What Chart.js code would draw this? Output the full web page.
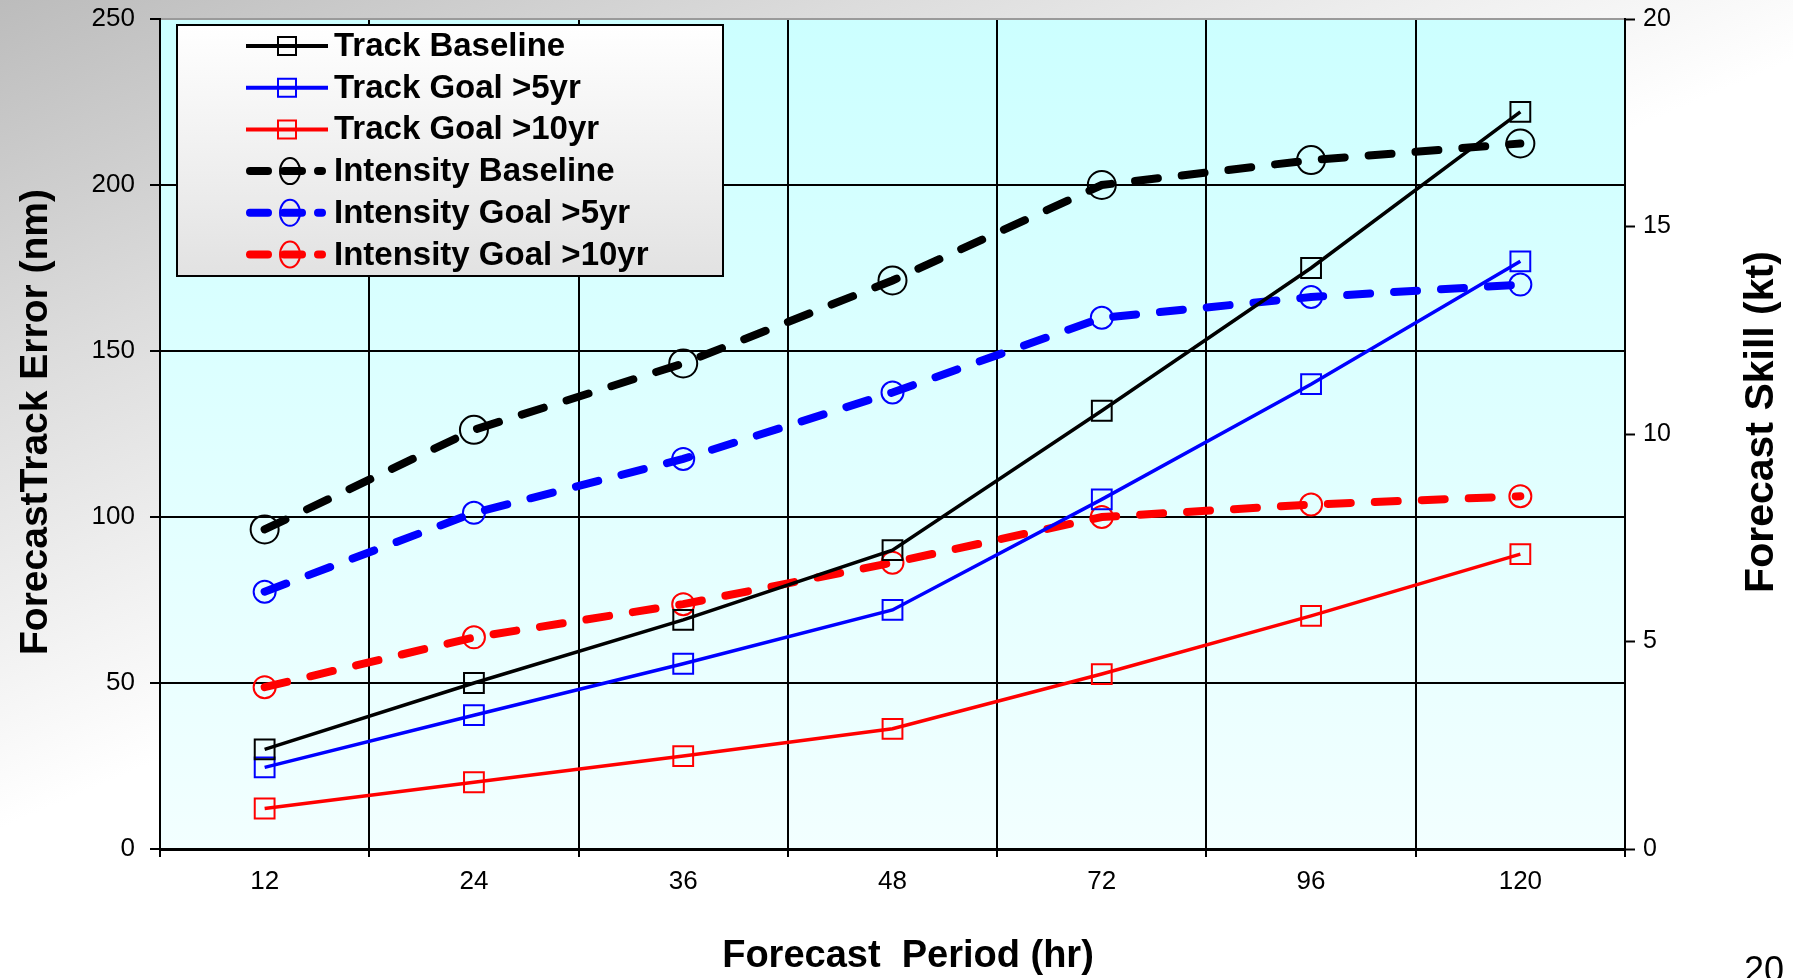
<!DOCTYPE html>
<html>
<head>
<meta charset="utf-8">
<script src="https://cdn.jsdelivr.net/npm/chart.js@4"></script>
<style>
    html, body { margin: 0; padding: 0; background: #fff; }
    canvas { display: block; }
</style>
</head>
<body>
<canvas id="grafico" width="1793" height="978"></canvas>
<script>
// =============================
// DADOS
// =============================

const periodos = ['12', '24', '36', '48', '72', '96', '120'];

// erro de trajetória (nm) - eixo esquerdo
const trackBaseline = [30, 50, 69, 90, 132, 175, 222];
const trackGoal5 = [24.6, 40.3, 55.8, 72, 105.3, 140, 177];
const trackGoal10 = [12.2, 20.1, 28, 36.2, 52.7, 70.2, 88.8];

// skill de intensidade (kt) - eixo direito
const intensityBaseline = [7.7, 10.1, 11.7, 13.7, 16.0, 16.6, 17.0];
const intensityGoal5 = [6.2, 8.1, 9.4, 11.0, 12.8, 13.3, 13.6];
const intensityGoal10 = [3.9, 5.1, 5.9, 6.9, 8.0, 8.3, 8.5];

const ticksEsquerda = [0, 50, 100, 150, 200, 250];
const ticksDireita = [0, 5, 10, 15, 20];

const FONTE = '"Liberation Sans", Arial, sans-serif';


// =============================
// SÉRIES
// =============================

function serieTrack(label, dados, cor) {
    return {
        label: label,
        data: dados,
        yAxisID: 'y',
        borderColor: cor,
        borderWidth: 3.5,
        pointStyle: 'rect',
        pointRadius: 14,
        pointBorderWidth: 2,
        pointBorderColor: cor,
        pointBackgroundColor: 'rgba(0,0,0,0)',
        tension: 0
    };
}

function serieIntensity(label, dados, cor, raio) {
    return {
        label: label,
        data: dados,
        yAxisID: 'y1',
        borderColor: cor,
        borderWidth: 8,
        borderDash: [23, 24],
        borderCapStyle: 'round',
        pointStyle: 'circle',
        pointRadius: raio,
        pointBorderWidth: 2,
        pointBorderColor: cor,
        pointBackgroundColor: 'rgba(0,0,0,0)',
        tension: 0
    };
}

const datasets = [
    serieTrack('Track Baseline', trackBaseline, '#000000'),
    serieTrack('Track Goal >5yr', trackGoal5, '#0000ff'),
    serieTrack('Track Goal >10yr', trackGoal10, '#ff0000'),
    serieIntensity('Intensity Baseline', intensityBaseline, '#000000', 14),
    serieIntensity('Intensity Goal >5yr', intensityGoal5, '#0000ff', 11),
    serieIntensity('Intensity Goal >10yr', intensityGoal10, '#ff0000', 11)
];


// =============================
// PLUGIN: FUNDOS, LEGENDA E TÍTULOS
// =============================

const pluginFundo = {
    id: 'fundo',
    beforeDraw(chart) {
        const ctx = chart.ctx;
        const area = chart.chartArea;

        // fundo da página (cinza no canto superior esquerdo -> branco)
        const gPagina = ctx.createLinearGradient(0, 0, 300, 700);
        gPagina.addColorStop(0, '#bcbcbc');
        gPagina.addColorStop(0.45, '#dcdcdc');
        gPagina.addColorStop(1, '#ffffff');
        ctx.save();
        ctx.fillStyle = gPagina;
        ctx.fillRect(0, 0, chart.width, chart.height);

        // área do gráfico em ciano claro
        const gArea = ctx.createLinearGradient(0, area.top, 0, area.bottom);
        gArea.addColorStop(0, '#ccffff');
        gArea.addColorStop(1, '#f2ffff');
        ctx.fillStyle = gArea;
        ctx.fillRect(area.left, area.top, area.right - area.left, area.bottom - area.top);
        ctx.restore();
    },
    afterDraw(chart) {
        const ctx = chart.ctx;
        ctx.save();

        // ---- legenda ----
        const lx = 177, ly = 25, lw = 546, lh = 251;
        const gLeg = ctx.createLinearGradient(0, ly, 0, ly + lh);
        gLeg.addColorStop(0, '#ffffff');
        gLeg.addColorStop(1, '#e2e2e2');
        ctx.fillStyle = gLeg;
        ctx.fillRect(lx, ly, lw, lh);
        ctx.strokeStyle = '#000';
        ctx.lineWidth = 2;
        ctx.strokeRect(lx, ly, lw, lh);

        chart.data.datasets.forEach((ds, i) => {
            const y = 46 + i * 41.7;
            ctx.strokeStyle = ds.borderColor;
            ctx.lineWidth = ds.borderDash ? 8 : 4;
            ctx.lineCap = ds.borderCapStyle || 'butt';
            ctx.beginPath();
            if (ds.borderDash) {
                ctx.setLineDash([18, 16]);
                ctx.moveTo(250, y);
                ctx.lineTo(322, y);
            } else {
                ctx.setLineDash([]);
                ctx.moveTo(246, y);
                ctx.lineTo(328, y);
            }
            ctx.stroke();
            ctx.setLineDash([]);

            ctx.lineWidth = 2;
            ctx.beginPath();
            if (ds.pointStyle === 'rect') {
                ctx.rect(287 - 9, y - 9, 18, 18);
            } else {
                ctx.ellipse(290, y, 10, 13, 0, 0, Math.PI * 2);
            }
            ctx.stroke();

            ctx.fillStyle = '#000';
            ctx.font = 'bold 33px ' + FONTE;
            ctx.textAlign = 'left';
            ctx.textBaseline = 'middle';
            ctx.fillText(ds.label, 334, y + 1);
        });

        // ---- títulos dos eixos ----
        ctx.fillStyle = '#000';
        ctx.textAlign = 'center';
        ctx.textBaseline = 'middle';

        ctx.font = 'bold 39px ' + FONTE;
        ctx.save();
        ctx.translate(36, 422);
        ctx.rotate(-Math.PI / 2);
        ctx.fillText('ForecastTrack Error (nm)', 0, 0);
        ctx.restore();

        ctx.save();
        ctx.translate(1762, 422);
        ctx.rotate(-Math.PI / 2);
        ctx.font = 'bold 41px ' + FONTE;
        ctx.fillText('Forecast Skill (kt)', 0, 0);
        ctx.restore();

        ctx.font = 'bold 38px ' + FONTE;
        ctx.textBaseline = 'alphabetic';
        ctx.fillText('Forecast  Period (hr)', 908, 967);

        // número da página
        ctx.font = '36px ' + FONTE;
        ctx.textAlign = 'left';
        ctx.fillText('20', 1744, 982);

        ctx.restore();
    }
};

// zera o padding extra que os rótulos dos eixos verticais pedem ao layout
function semPaddingVertical(scale) {
    scale.paddingTop = 0;
    scale.paddingBottom = 0;
}


// =============================
// GRÁFICO
// =============================

document.addEventListener('DOMContentLoaded', () => {
    const ctx = document.getElementById('grafico');

    new Chart(ctx, {
        type: 'line',
        data: {
            labels: periodos,
            datasets: datasets
        },
        options: {
            responsive: false,
            animation: false,
            devicePixelRatio: 1,
            layout: {
                padding: { top: 19, left: 0, right: 0, bottom: 0 }
            },
            plugins: {
                legend: { display: false },
                tooltip: { enabled: false }
            },
            scales: {
                x: {
                    type: 'category',
                    offset: true,
                    afterFit(scale) {
                        scale.height = 129;
                        scale.paddingLeft = 0;
                        scale.paddingRight = 0;
                    },
                    grid: {
                        offset: true,
                        color: '#000',
                        lineWidth: 2,
                        tickLength: 8,
                        tickColor: '#000',
                        tickWidth: 2
                    },
                    border: { color: '#000', width: 3 },
                    ticks: {
                        color: '#000',
                        padding: 9,
                        font: { family: FONTE, size: 26 }
                    }
                },
                y: {
                    position: 'left',
                    min: 0,
                    max: 250,
                    afterFit(scale) {
                        scale.width = 160;
                        semPaddingVertical(scale);
                    },
                    afterBuildTicks(scale) {
                        scale.ticks = ticksEsquerda.map(v => ({ value: v }));
                    },
                    grid: {
                        color: c => (c.tick && c.tick.value === 250) ? '#9a9a9a' : '#000',
                        lineWidth: 2,
                        tickLength: 10,
                        tickColor: '#000',
                        tickWidth: 2
                    },
                    border: { color: '#000', width: 2 },
                    ticks: {
                        color: '#000',
                        padding: 15,
                        font: { family: FONTE, size: 26 }
                    }
                },
                y1: {
                    position: 'right',
                    min: 0,
                    max: 20,
                    afterFit(scale) {
                        scale.width = 168;
                        semPaddingVertical(scale);
                    },
                    afterBuildTicks(scale) {
                        scale.ticks = ticksDireita.map(v => ({ value: v }));
                    },
                    grid: {
                        drawOnChartArea: false,
                        tickLength: 10,
                        tickColor: '#000',
                        tickWidth: 2
                    },
                    border: { color: '#000', width: 2 },
                    ticks: {
                        color: '#000',
                        padding: 8,
                        font: { family: FONTE, size: 25 }
                    }
                }
            }
        },
        plugins: [pluginFundo]
    });
});
</script>
</body>
</html>
